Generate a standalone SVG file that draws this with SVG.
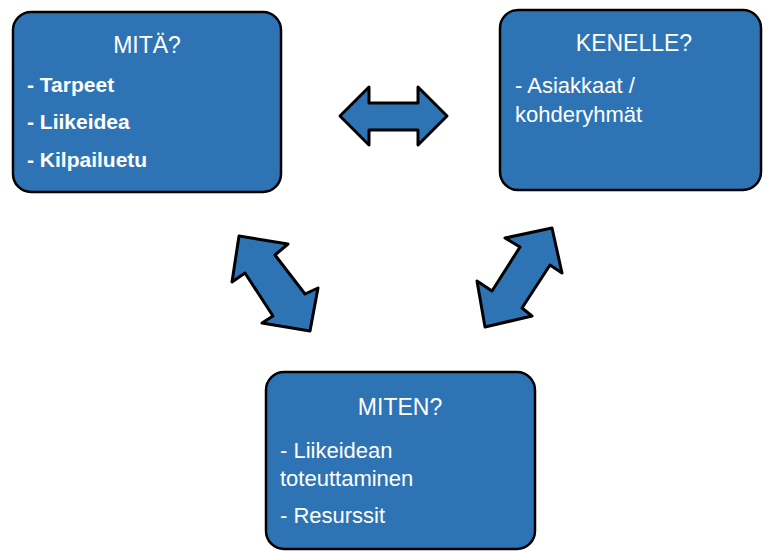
<svg xmlns="http://www.w3.org/2000/svg" width="763" height="551" viewBox="0 0 763 551">
<style>
.box{fill:#2E74B5;stroke:#000;stroke-width:2.5}
.arrow{fill:#2E74B5;stroke:#000;stroke-width:3;stroke-linejoin:round}
.t{font-family:"Liberation Sans",Arial,sans-serif;fill:#fff}
.title{font-size:23px;text-anchor:middle}
.item{font-size:22px}
.itemb{font-size:21px;font-weight:bold}
</style>
<rect x="0" y="0" width="763" height="551" fill="#fff"/>
<g id="connectors">
<polygon class="arrow" points="340,116 369,87 369,103 418,103 418,87 447,116 418,145 418,130 369,130 369,145"/>
<polygon class="arrow" points="239,236 288,244 275,255 305,294 318,288 310,331 262,323 273,316 245,273 232,282"/>
<polygon class="arrow" points="552,228 562,273 550,265 522,308 532,316 485,327 477,281 492,291 520,247 505,238"/>
</g>
<g id="mita">
<rect class="box" x="13" y="12" width="268" height="180" rx="18"/>
<text class="t title" x="147" y="53">MITÄ?</text>
<text class="t itemb" x="27" y="92">- Tarpeet</text>
<text class="t itemb" x="27" y="129">- Liikeidea</text>
<text class="t itemb" x="27" y="167">- Kilpailuetu</text>
</g>
<g id="kenelle">
<rect class="box" x="500" y="10" width="261" height="180" rx="18"/>
<text class="t title" x="634" y="51">KENELLE?</text>
<text class="t item" x="515" y="93">- Asiakkaat /</text>
<text class="t item" x="515" y="122">kohderyhmät</text>
</g>
<g id="miten">
<rect class="box" x="266" y="372" width="269" height="177" rx="18"/>
<text class="t title" x="400" y="415">MITEN?</text>
<text class="t item" x="280" y="458">- Liikeidean</text>
<text class="t item" x="280" y="486">toteuttaminen</text>
<text class="t item" x="280" y="523">- Resurssit</text>
</g>
</svg>
